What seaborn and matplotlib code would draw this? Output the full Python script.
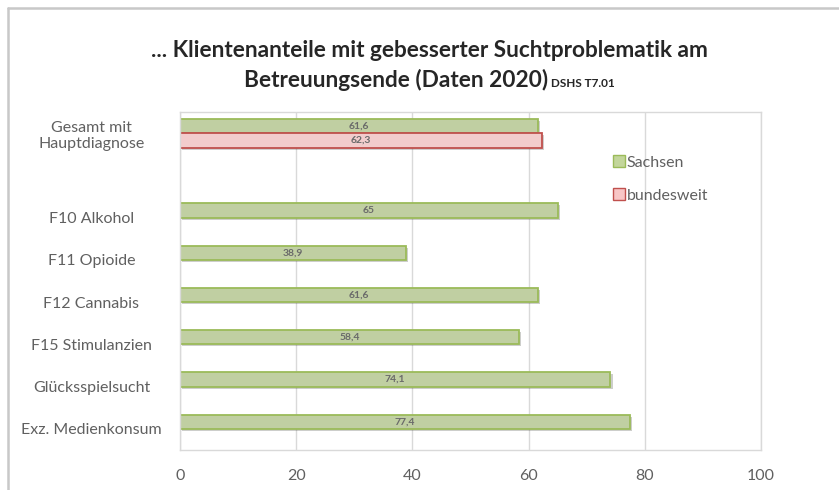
import pandas as pd
import seaborn as sns
import matplotlib.pyplot as plt
import matplotlib.patheffects as pe
from matplotlib.lines import Line2D

# data
categories = ["Gesamt mit\nHauptdiagnose", " ", "F10 Alkohol", "F11 Opioide",
              "F12 Cannabis", "F15 Stimulanzien", "Glücksspielsucht",
              "Exz. Medienkonsum"]
sachsen_cats = ["Gesamt mit\nHauptdiagnose", "F10 Alkohol", "F11 Opioide",
                "F12 Cannabis", "F15 Stimulanzien", "Glücksspielsucht",
                "Exz. Medienkonsum"]
sachsen_vals = [61.6, 65, 38.9, 61.6, 58.4, 74.1, 77.4]
bund_cats = ["Gesamt mit\nHauptdiagnose"]
bund_vals = [62.3]
xticks = [0, 20, 40, 60, 80, 100]

rows = [[c, v, "Sachsen"] for c, v in zip(sachsen_cats, sachsen_vals)]
rows += [[c, v, "bundesweit"] for c, v in zip(bund_cats, bund_vals)]
df = pd.DataFrame(rows, columns=["Kategorie", "Wert", "Region"])

sns.set_theme(style="white")
plt.rcParams["font.family"] = ["Lato", "DejaVu Sans"]
grey = "#606060"

fig = plt.figure(figsize=(8.39, 4.90), dpi=100)
ax = fig.add_axes([0.2145, 0.0816, 0.6925, 0.6898])

ax = sns.barplot(data=df, x="Wert", y="Kategorie", hue="Region",
                 order=categories, hue_order=["Sachsen", "bundesweit"],
                 palette={"Sachsen": "#c3d69b", "bundesweit": "#f8c6c6"},
                 width=0.68, errorbar=None, ax=ax, legend=False)

edges = {0: "#9bbb59", 1: "#c0504d"}
shadow = [pe.SimplePatchShadow(offset=(1.5, -1.5), alpha=0.25), pe.Normal()]
for i, cont in enumerate(ax.containers):
    for bar in cont:
        bar.set_edgecolor(edges[i])
        bar.set_linewidth(1.3)
        bar.set_path_effects(shadow)
    ax.bar_label(cont, fmt=lambda v: f"{v:g}".replace(".", ","),
                 label_type="center", fontsize=7.5, fontweight="bold",
                 color="#6a6a6a")

ax.set_xlim(0, 100)
ax.set_xticks(xticks)
ax.set_xlabel("")
ax.set_ylabel("")
ax.grid(axis="x", color="#d9d9d9", linewidth=1)
ax.set_axisbelow(True)
for s in ax.spines.values():
    s.set_color("#d9d9d9")
    s.set_linewidth(1)
ax.tick_params(axis="both", length=0, colors=grey, labelsize=11.5)
ax.tick_params(axis="x", pad=14)
ax.tick_params(axis="y", pad=14)
for lab in ax.get_yticklabels():
    lab.set_horizontalalignment("center")
    lab.set_x(-0.119)

handles = [Line2D([], [], marker="s", linestyle="", markersize=8,
                  markerfacecolor="#c3d69b", markeredgecolor="#9bbb59"),
           Line2D([], [], marker="s", linestyle="", markersize=8,
                  markerfacecolor="#f8c6c6", markeredgecolor="#c0504d")]
fig.legend(handles, ["Sachsen", "bundesweit"], loc="upper left",
           bbox_to_anchor=(0.713, 0.712), frameon=False, fontsize=11.5,
           labelcolor=grey, labelspacing=1.2, handletextpad=0.1,
           handlelength=0.8)

# title, second line has a small source tag
fig.text(0.512, 0.897, "... Klientenanteile mit gebesserter Suchtproblematik am",
         ha="center", va="center", fontsize=16.3, fontweight="bold")
fig.canvas.draw()
r = fig.canvas.get_renderer()
t1 = fig.text(0, 0.822, "Betreuungsende (Daten 2020)", ha="left",
              va="baseline", fontsize=16.3, fontweight="bold")
t2 = fig.text(0, 0.822, " DSHS T7.01", ha="left", va="baseline",
              fontsize=8.5, fontweight="bold")
w1 = t1.get_window_extent(r).width / fig.bbox.width
w2 = t2.get_window_extent(r).width / fig.bbox.width
x0 = 0.512 - (w1 + w2) / 2
t1.set_x(x0)
t2.set_x(x0 + w1)

# chart frame (cut at right and bottom)
fig.add_artist(Line2D([0.0095, 0.0095], [0, 0.984], transform=fig.transFigure,
                      color="#c8c8c8", linewidth=1.8))
fig.add_artist(Line2D([0.0095, 1], [0.984, 0.984], transform=fig.transFigure,
                      color="#c8c8c8", linewidth=1.8))

fig.savefig("out.png", dpi=100)
